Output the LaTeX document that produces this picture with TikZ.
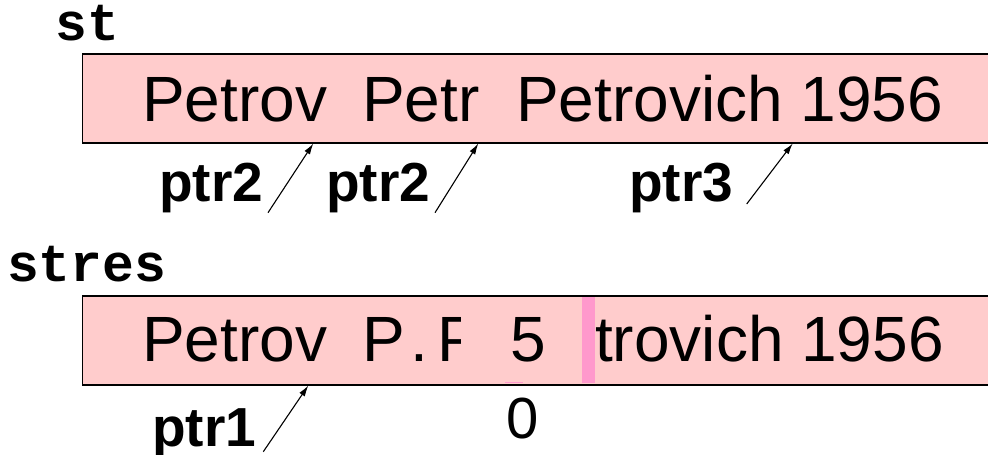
\documentclass[tikz,border=0pt]{standalone}
\usepackage{fontspec}
\setmainfont{Liberation Sans}
\setmonofont{Liberation Mono}
\usetikzlibrary{arrows.meta}
\definecolor{cellpink}{HTML}{FFCCCC}
\definecolor{markpink}{HTML}{FF99CC}
\begin{document}
\begin{tikzpicture}[x=1pt,y=-1pt,
  txt/.style={anchor=base west, inner sep=0pt, font=\fontsize{64}{70}\selectfont},
  lbl/.style={anchor=base west, inner sep=0pt, font=\fontsize{55}{60}\selectfont\bfseries},
  var/.style={anchor=base west, inner sep=0pt, font=\fontsize{53}{58}\selectfont\ttfamily\bfseries},
  cell/.style={fill=cellpink, draw=black, line width=1.6pt, inner sep=0pt,
    anchor=north west, minimum width=940pt, minimum height=89pt},
  ptr/.style={-{Latex[length=11pt,width=6.5pt]}, line width=1.1pt}]
\useasboundingbox (0,0) rectangle (988,455);

% variable names
\node[var] (stname) at (55,40) {st};
\node[var] (stresname) at (7,281.5) {stres};

% source string
\node[cell] (stbox) at (81.7,53.3) {};
\node[txt] (s1) at (142,121.7) {Petrov};
\node[txt] (s2) at (362,121.7) {Petr};
\node[txt] (s3) at (516,121.7) {Petrovich 1956};

% result string
\node[cell] (resbox) at (81.7,295) {};
\fill[markpink] (581.7,297) rectangle (595,383);
\draw[markpink, line width=1pt] (505,382) -- (523,382);
\node[txt] (r1) at (142,361.7) {Petrov};
\node[txt] (r2) at (362,361.7) {P};
\node[txt] (r3) at (410,361.7) {.};
\begin{scope}
  \clip (430,300) rectangle (460,380);
  \node[txt] (r4) at (437,361.7) {P};
\end{scope}
\node[txt] (r5) at (510,361.7) {5};
\node[txt] (r6) at (595,361.7) {trovich 1956};
\node[anchor=base, inner sep=0pt, font=\fontsize{58}{64}\selectfont] (zero) at (523,438) {0};

% pointer labels
\node[lbl] (p2a) at (159,201.5) {ptr2};
\node[lbl] (p2b) at (326,201.5) {ptr2};
\node[lbl] (p3) at (629,201.5) {ptr3};
\node[lbl] (p1) at (152,446) {ptr1};

% pointer arrows
\coordinate (t2a) at (268,212.7);
\coordinate (h2a) at (313.3,143.5);
\coordinate (t2b) at (435,212.7);
\coordinate (h2b) at (478.3,143.5);
\coordinate (t3) at (746.7,204);
\coordinate (h3) at (792.7,143.5);
\coordinate (t1) at (263.3,451.7);
\coordinate (h1) at (308.3,385.5);
\draw[ptr] (t2a) -- (h2a);
\draw[ptr] (t2b) -- (h2b);
\draw[ptr] (t3) -- (h3);
\draw[ptr] (t1) -- (h1);
\end{tikzpicture}
\end{document}
